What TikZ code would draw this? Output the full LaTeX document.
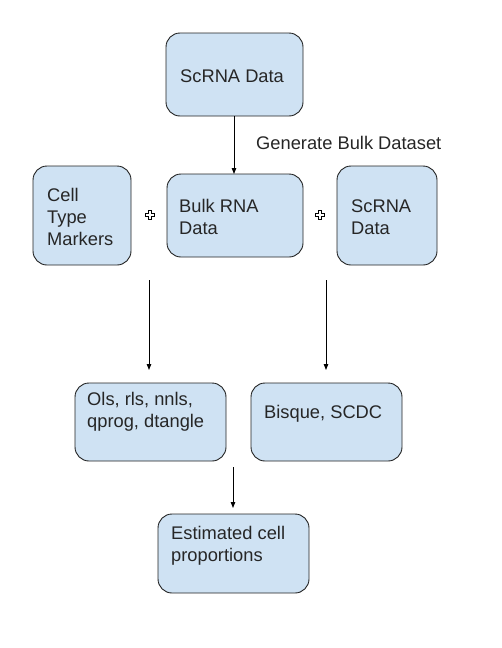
\documentclass[tikz,border=0pt]{standalone}
\usepackage{fontspec}
\setmainfont{Liberation Sans}
\usetikzlibrary{arrows.meta}
\definecolor{boxfill}{HTML}{CFE2F3}
\definecolor{boxline}{HTML}{222222}
\tikzset{
  box/.style={draw=boxline, fill=boxfill, line width=0.9pt, rounded corners=14pt},
  lbl/.style={anchor=base west, inner sep=0pt, font=\fontsize{18.3}{22}\selectfont, text=black!85},
  arr/.style={line width=0.9pt, -{Triangle[length=6pt,width=4.5pt]}},
  pics/plussign/.style={code={
    \draw[fill=white, line width=0.7pt] (-1.5,-4.5) -- (1.5,-4.5) -- (1.5,-1.5) -- (4.5,-1.5) -- (4.5,1.5) -- (1.5,1.5) -- (1.5,4.5) -- (-1.5,4.5) -- (-1.5,1.5) -- (-4.5,1.5) -- (-4.5,-1.5) -- (-1.5,-1.5) -- cycle;
  }}
}
\newcommand{\lines}[1]{\begin{tabular}[t]{@{}l@{}}#1\end{tabular}}
\begin{document}
\begin{tikzpicture}[x=1pt, y=-1pt]
\useasboundingbox (0,0) rectangle (501,648);
% boxes
\draw[box] (166,33) rectangle (303,116) node[pos=0.5, inner sep=0] (scA) {};
\draw[box] (33,166) rectangle (131,265) node[pos=0.5, inner sep=0] (ctm) {};
\draw[box] (167,174) rectangle (303,257) node[pos=0.5, inner sep=0] (bulk) {};
\draw[box] (337,166) rectangle (437,265) node[pos=0.5, inner sep=0] (scB) {};
\draw[box] (75,383) rectangle (226,461) node[pos=0.5, inner sep=0] (ols) {};
\draw[box] (251,383) rectangle (402,461) node[pos=0.5, inner sep=0] (bisq) {};
\draw[box] (158,514) rectangle (309,593) node[pos=0.5, inner sep=0] (est) {};
% texts
\node[lbl] (tscA) at (180,82) {ScRNA Data};
\node[lbl] (tgen) at (256,149) {Generate Bulk Dataset};
\node[lbl] (tctm) at (47,201) {\lines{Cell\\Type\\Markers}};
\node[lbl] (tbulk) at (179,212) {\lines{Bulk RNA\\Data}};
\node[lbl] (tscB) at (351,212) {\lines{ScRNA\\Data}};
\node[lbl] (tols) at (87,405) {\lines{Ols, rls, nnls,\\qprog, dtangle}};
\node[lbl] (tbisq) at (264,418) {Bisque, SCDC};
\node[lbl] (test) at (171,539) {\lines{Estimated cell\\proportions}};
% plus signs
\pic at (150,215) {plussign};
\pic at (320,215) {plussign};
% arrows
\coordinate (a1s) at (149,280);
\coordinate (a1e) at (149,370);
\coordinate (a2s) at (326,280);
\coordinate (a2e) at (326,370);
\coordinate (a3s) at (233,467);
\coordinate (a3e) at (233,508);
\coordinate (a0s) at (234,116);
\coordinate (a0e) at (234,174);
\draw[arr] (a0s) -- (a0e);
\draw[arr] (a1s) -- (a1e);
\draw[arr] (a2s) -- (a2e);
\draw[arr] (a3s) -- (a3e);
\end{tikzpicture}
\end{document}
